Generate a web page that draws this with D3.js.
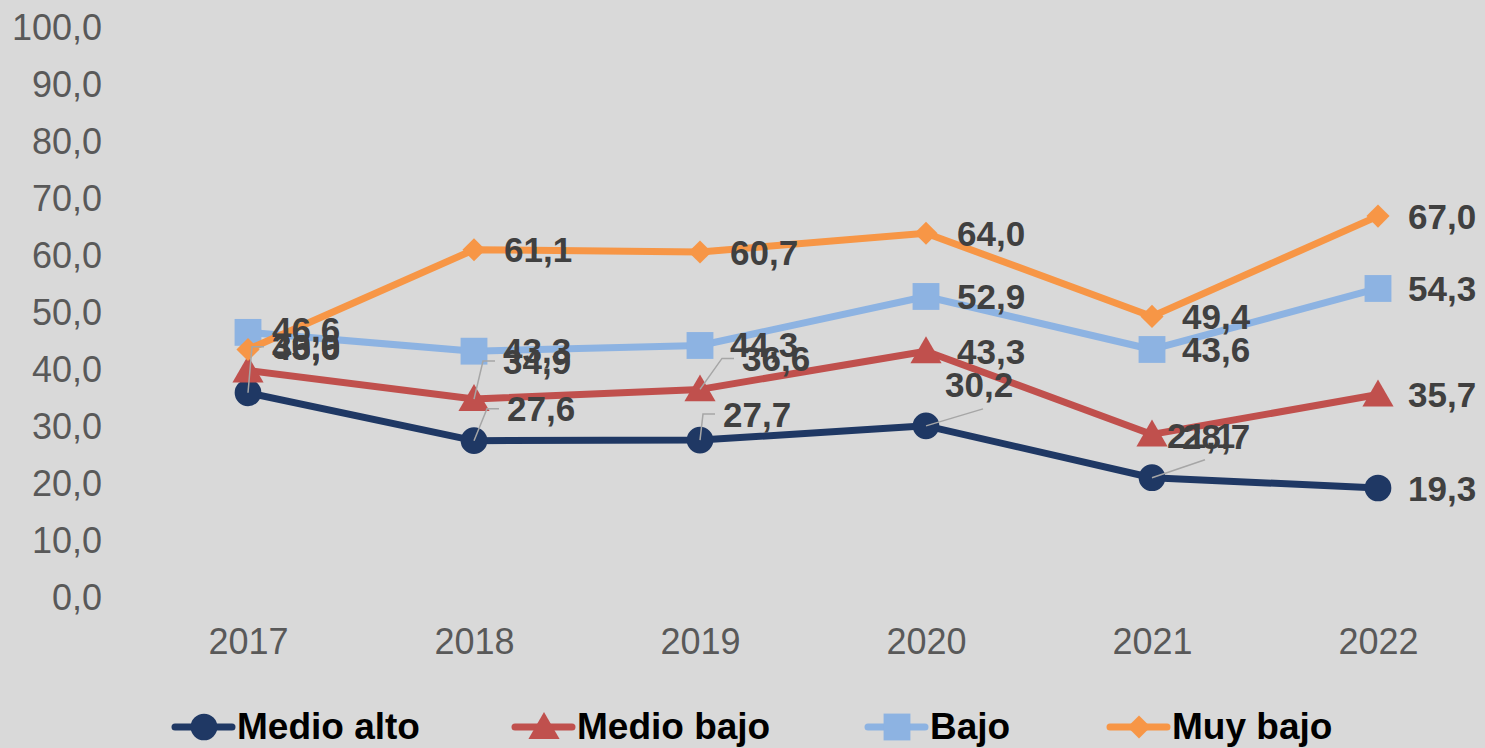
<!DOCTYPE html>
<html>
<head>
<meta charset="utf-8">
<script src="https://cdn.jsdelivr.net/npm/d3@7"></script>
<style>
  body { margin: 0; background: #d9d9d9; }
  svg { display: block; font-family: "Liberation Sans", Arial, sans-serif; }
</style>
</head>
<body>
<svg id="chart" width="1485" height="748"></svg>
<script>
// datos
const years = ["2017", "2018", "2019", "2020", "2021", "2022"]
const yTicks = [0, 10, 20, 30, 40, 50, 60, 70, 80, 90, 100]
const seriesNames = ["Medio alto", "Medio bajo", "Bajo", "Muy bajo"]
const medioAlto = [36.0, 27.6, 27.7, 30.2, 21.1, 19.3]
const medioBajo = [39.9, 34.9, 36.6, 43.3, 28.7, 35.7]
const bajo = [46.6, 43.3, 44.3, 52.9, 43.6, 54.3]
const muyBajo = [43.6, 61.1, 60.7, 64.0, 49.4, 67.0]

const colors = ["#1f3864", "#c0504d", "#8db3e2", "#f79646"]
const symbols = [d3.symbolCircle, d3.symbolTriangle, d3.symbolSquare, d3.symbolDiamond2]
const symbolSize = [560, 420, 720, 340]

// desplazamiento manual de etiquetas (dx, dy, tipo de linea guia)
// 1 = guia en codo, 2 = guia recta hacia abajo de la etiqueta
const labelPos = [
  [[24, -46, 1], [33, -32, 1], [23, -26, 1], [19, -41, 2], [15, -42, 2], [30, 0]],
  [[24, -24], [29, -38, 1], [42, -31, 1], [31, 0], [30, 2], [30, 0]],
  [[24, -3], [29, -1], [30, -1], [31, 0], [30, 0], [30, 0]],
  [[24, -2], [30, 0], [30, 0], [31, 0], [30, 0], [30, 0]]
]

const data = [medioAlto, medioBajo, bajo, muyBajo]

const svg = d3.select('#chart')

const x = d3.scalePoint(years, [248, 1378])
const y = d3.scaleLinear([0, 100], [598, 28])

// EJE Y
const yAxis = d3.axisLeft(y).tickValues(yTicks).tickSize(0).tickPadding(0)
  .tickFormat(d => d3.format(".1f")(d).replace(".", ","))
svg.append('g')
  .attr('transform', 'translate(102,0)')
  .call(yAxis)
  .call(g => g.select('.domain').remove())
  .selectAll('text')
  .attr('font-size', '36px')
  .attr('fill', '#595959')
  .attr('font-family', '"Liberation Sans", Arial, sans-serif')

// EJE X
const xAxis = d3.axisBottom(x).tickSize(0).tickPadding(0)
svg.append('g')
  .attr('transform', 'translate(0,628)')
  .call(xAxis)
  .call(g => g.select('.domain').remove())
  .selectAll('text')
  .attr('dy', '0.71em')
  .attr('font-size', '36px')
  .attr('fill', '#595959')
  .attr('font-family', '"Liberation Sans", Arial, sans-serif')

// LINEAS
const line = d3.line()
  .x((d, i) => x(years[i]))
  .y(d => y(d))

data.forEach(function(values, s) {
  svg.append('path')
    .attr('d', line(values))
    .attr('fill', 'none')
    .attr('stroke', colors[s])
    .attr('stroke-width', 7)
    .attr('stroke-linejoin', 'round')

  svg.append('g')
    .selectAll('path')
    .data(values)
    .join('path')
    .attr('d', d3.symbol(symbols[s], symbolSize[s]))
    .attr('transform', (d, i) => `translate(${x(years[i])},${y(d) + (s == 1 ? 3 : 0)})`)
    .attr('fill', colors[s])
})

// LINEAS GUIA
data.forEach(function(values, s) {
  values.forEach(function(v, i) {
    const p = labelPos[s][i]
    if (!p[2]) return
    const px = x(years[i]), py = y(v)
    const lx = px + p[0], ly = py + p[1]
    const d = p[2] == 1
      ? `M${px},${py} L${lx - 20},${ly} L${lx - 8},${ly}`
      : `M${px},${py} L${lx + 38},${ly + 24}`
    svg.append('path')
      .attr('d', d)
      .attr('fill', 'none')
      .attr('stroke', '#a6a6a6')
      .attr('stroke-width', 1.5)
  })
})

// ETIQUETAS
data.forEach(function(values, s) {
  svg.append('g')
    .selectAll('text')
    .data(values)
    .join('text')
    .text(d => d3.format(".1f")(d).replace(".", ","))
    .attr('x', (d, i) => x(years[i]) + labelPos[s][i][0])
    .attr('y', (d, i) => y(d) + labelPos[s][i][1])
    .attr('dy', '0.36em')
    .attr('font-size', '35px')
    .attr('font-weight', 'bold')
    .attr('fill', '#404040')
})

// LEYENDA
const legendX = [175, 515, 868, 1110]
const legend = svg.append('g')
  .selectAll('g')
  .data(seriesNames)
  .join('g')
  .attr('transform', (d, i) => `translate(${legendX[i]},727)`)

legend.append('line')
  .attr('x1', 0).attr('x2', 57)
  .attr('stroke', (d, i) => colors[i])
  .attr('stroke-width', 7)
  .attr('stroke-linecap', 'round')

legend.append('path')
  .attr('d', (d, i) => d3.symbol(symbols[i], symbolSize[i])())
  .attr('transform', (d, i) => `translate(29,${i == 1 ? 3 : 0})`)
  .attr('fill', (d, i) => colors[i])

legend.append('text')
  .text(d => d)
  .attr('x', 62)
  .attr('y', 12)
  .attr('font-size', '37px')
  .attr('font-weight', 'bold')
  .attr('fill', '#000000')
</script>
</body>
</html>
